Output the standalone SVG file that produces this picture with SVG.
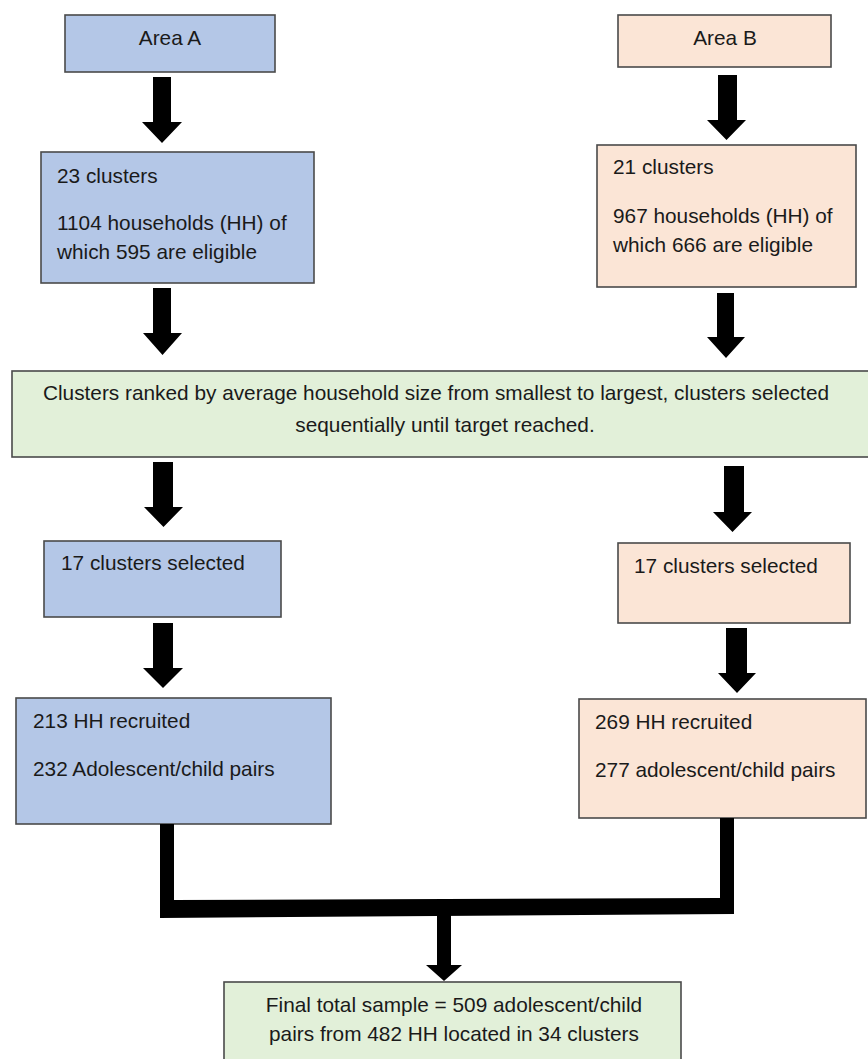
<svg xmlns="http://www.w3.org/2000/svg" width="868" height="1059" viewBox="0 0 868 1059">
<style>
.box{stroke:#4a4a4a;stroke-width:1.6}
.a{fill:#b4c7e7}
.b{fill:#fbe5d6}
.g{fill:#e2f0d9}
text{font-family:"Liberation Sans",Arial,sans-serif;font-size:20.8px;fill:#1a1a1a}
.c{text-anchor:middle}
.arr{fill:#000}
</style>
<rect width="868" height="1059" fill="#fff"/>
<g id="areaA"><rect class="box a" x="65" y="15" width="210" height="57"/><text class="c" x="170" y="45">Area A</text></g>
<g id="areaB"><rect class="box b" x="618" y="15" width="213" height="52"/><text class="c" x="725" y="45">Area B</text></g>
<g id="a2"><rect class="box a" x="41" y="152" width="273" height="131"/>
<text x="57" y="183">23 clusters</text>
<text x="57" y="230">1104 households (HH) of</text>
<text x="57" y="259">which 595 are eligible</text></g>
<g id="b2"><rect class="box b" x="597" y="145" width="259" height="142"/>
<text x="613" y="174">21 clusters</text>
<text x="613" y="223">967 households (HH) of</text>
<text x="613" y="252">which 666 are eligible</text></g>
<g id="rank"><rect class="box g" x="12" y="371" width="862" height="86"/>
<text class="c" x="436" y="400">Clusters ranked by average household size from smallest to largest, clusters selected</text>
<text class="c" x="445" y="432">sequentially until target reached.</text></g>
<g id="a4"><rect class="box a" x="44" y="541" width="237" height="76"/><text x="61" y="570">17 clusters selected</text></g>
<g id="b4"><rect class="box b" x="618" y="543" width="232" height="80"/><text x="634" y="573">17 clusters selected</text></g>
<g id="a5"><rect class="box a" x="16" y="698" width="315" height="126"/>
<text x="33" y="728">213 HH recruited</text>
<text x="33" y="776">232 Adolescent/child pairs</text></g>
<g id="b5"><rect class="box b" x="579" y="699" width="287" height="119"/>
<text x="595" y="729">269 HH recruited</text>
<text x="595" y="777">277 adolescent/child pairs</text></g>
<g id="final"><rect class="box g" x="224" y="982" width="457" height="85"/>
<text class="c" x="454" y="1012">Final total sample = 509 adolescent/child</text>
<text class="c" x="454" y="1041">pairs from 482 HH located in 34 clusters</text></g>
<g id="connectors" class="arr">
<polygon points="153,77 171,77 171,122 182,122 162,143 142,122 153,122"/>
<polygon points="153,288 171,288 171,333 182,333 162.5,355 143,333 153,333"/>
<polygon points="718,75 737,75 737,120 746,120 726.5,140 707,120 718,120"/>
<polygon points="717,293 734,293 734,337 745,337 726,358 707,337 717,337"/>
<polygon points="153,462 173,462 173,507 183,507 163.5,527 144,507 153,507"/>
<polygon points="724,466 744,466 744,512 752,512 732.5,532 713,512 724,512"/>
<polygon points="153,623 173,623 173,668 183,668 163,688 143,668 153,668"/>
<polygon points="726,628 747,628 747,673 756,673 737,693 718,673 726,673"/>
<polygon points="160,824 174,824 174,900 720,898 720,818 734,818 734,914 160,918"/>
<polygon points="437,912 451,912 451,965 462,965 444,981 426,965 437,965"/>
</g>
</svg>
